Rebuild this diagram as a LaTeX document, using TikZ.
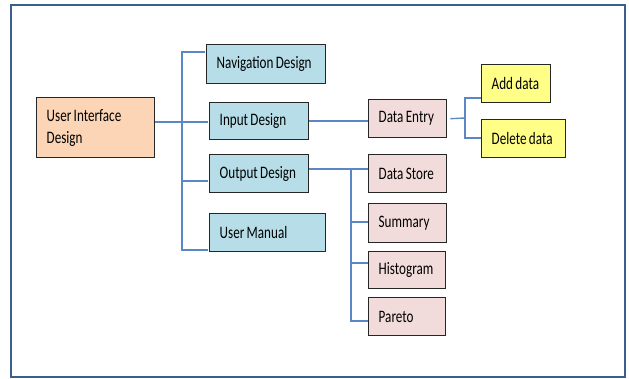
\documentclass[tikz,border=0pt]{standalone}
\usepackage{fontspec}
\setmainfont{Carlito}[FakeStretch=0.75,WordSpace=0.8]
\definecolor{framec}{HTML}{3B5E8C}
\definecolor{connc}{HTML}{5B87C5}
\definecolor{bluef}{HTML}{B7DEE8}
\definecolor{peachf}{HTML}{FBD5B5}
\definecolor{pinkf}{HTML}{F2DCDB}
\definecolor{yellowf}{HTML}{FFFF88}
\definecolor{edgec}{HTML}{262626}
\newcommand{\lbox}[2]{\makebox[#1][l]{#2}}
\tikzset{
  boxnode/.style={draw=edgec, line width=1.4pt, anchor=north west, inner xsep=10pt, inner ysep=0pt,
    font=\fontsize{17.5}{22}\selectfont},
  conn/.style={draw=connc, line width=1.4pt},
  frame/.style={draw=framec, line width=2.2pt}
}
\begin{document}
\begin{tikzpicture}[x=1pt,y=-1pt]
\useasboundingbox (0,0) rectangle (629,379);
\draw[frame] (11,5) rectangle (625,377);
% boxes
\node[boxnode, fill=peachf, minimum width=118pt, minimum height=60pt] (ui) at (36,97) {\lbox{98pt}{\begin{tabular}{@{}l@{}}User Interface\\Design\end{tabular}}};
\node[boxnode, fill=bluef, minimum width=119pt, minimum height=39pt] (nav) at (206,44) {\lbox{99pt}{Navigation Design}};
\node[boxnode, fill=bluef, minimum width=99pt, minimum height=37pt] (in) at (209,102) {\lbox{79pt}{Input Design}};
\node[boxnode, fill=bluef, minimum width=99pt, minimum height=38pt] (out) at (209,154) {\lbox{79pt}{Output Design}};
\node[boxnode, fill=bluef, minimum width=116pt, minimum height=38pt] (um) at (209,213) {\lbox{96pt}{User Manual}};
\node[boxnode, fill=pinkf, minimum width=78pt, minimum height=38pt] (de) at (368,99) {\lbox{58pt}{Data Entry}};
\node[boxnode, fill=yellowf, minimum width=69pt, minimum height=38pt] (add) at (481,64) {\lbox{49pt}{Add data}};
\node[boxnode, fill=yellowf, minimum width=84pt, minimum height=38pt] (del) at (481,119) {\lbox{64pt}{Delete data}};
\node[boxnode, fill=pinkf, minimum width=78pt, minimum height=38pt] (ds) at (368,154) {\lbox{58pt}{Data Store}};
\node[boxnode, fill=pinkf, minimum width=78pt, minimum height=39pt] (sum) at (368,203) {\lbox{58pt}{Summary}};
\node[boxnode, fill=pinkf, minimum width=77pt, minimum height=37pt] (hist) at (368,251) {\lbox{57pt}{Histogram}};
\node[boxnode, fill=pinkf, minimum width=77pt, minimum height=38pt] (par) at (368,297) {\lbox{57pt}{Pareto}};
% trunk coordinates
\coordinate (tA) at (182,52);
\coordinate (tB) at (182,122);
\coordinate (tC) at (182,181);
\coordinate (tD) at (182,250);
\coordinate (eA) at (465,98);
\coordinate (eB) at (465,118);
\coordinate (eC) at (465,138);
\coordinate (oA) at (351,169);
\coordinate (oB) at (351,222);
\coordinate (oC) at (351,263);
\coordinate (oD) at (351,321);
% connectors
\draw[conn] (ui.east |- tB) -- (tB);
\draw[conn] ([xshift=-1pt]tA -| nav.west) -- (tA) -- (tD) -- ([xshift=-1pt]tD -| um.west);
\draw[conn] (tB) -- ([xshift=-1pt]tB -| in.west);
\draw[conn] (tC) -- ([xshift=-1pt]tC -| out.west);
\draw[conn] (in.east) -- (in.east -| de.west);
\draw[conn] ([xshift=3pt]de.east) -- (eB);
\draw[conn] (eA -| add.west) -- (eA) -- (eC) -- (eC -| del.west);
\draw[conn] (out.east |- oA) -- (oA -| ds.west);
\draw[conn] (oA) -- (oD) -- (oD -| par.west);
\draw[conn] (oB) -- (oB -| sum.west);
\draw[conn] (oC) -- (oC -| hist.west);
\end{tikzpicture}
\end{document}
